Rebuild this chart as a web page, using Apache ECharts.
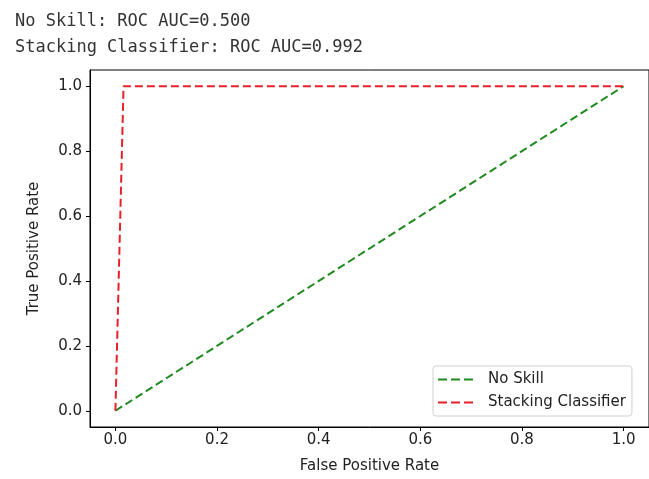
<!DOCTYPE html>
<html>
<head>
<meta charset="utf-8">
<script src="https://cdn.jsdelivr.net/npm/echarts@6/dist/echarts.min.js"></script>
<style>
html,body{margin:0;padding:0;background:#fff;}
#chart{width:649px;height:479px;}
</style>
</head>
<body>
<div id="chart"></div>
<script>
const titleLines = ['No Skill: ROC AUC=0.500', 'Stacking Classifier: ROC AUC=0.992'];
const seriesNames = ['No Skill', 'Stacking Classifier'];
const noSkillFpr = [0, 1];
const noSkillTpr = [0, 1];
const stackFpr = [0, 0.016, 1];
const stackTpr = [0, 1, 1];
const tickValues = [0, 0.2, 0.4, 0.6, 0.8, 1.0];

const chart = echarts.init(document.getElementById('chart'), null, {renderer: 'canvas'});
const sans = 'DejaVu Sans';
const dashIcon = 'path://M0,0h9v2h-9z M13,0h9v2h-9z M26,0h9v2h-9z';
const axisCommon = {
  type: 'value',
  min: -0.05,
  max: 1.05,
  splitLine: {show: false},
  axisLine: {show: true, onZero: false, lineStyle: {color: '#000', width: 1}},
  axisTick: {show: true, customValues: tickValues, length: 4, lineStyle: {color: '#000'}},
  axisLabel: {customValues: tickValues, formatter: v => v.toFixed(1), color: '#222', fontFamily: sans, fontSize: 15, margin: 6},
  nameLocation: 'middle',
  nameTextStyle: {color: '#222', fontFamily: sans, fontSize: 15}
};
chart.setOption({
  animation: false,
  title: {
    text: titleLines.join('\n'),
    left: 10, top: 4,
    textStyle: {fontFamily: 'DejaVu Sans Mono', fontSize: 17, fontWeight: 'normal', color: '#333', lineHeight: 26}
  },
  grid: {left: 90, top: 70, width: 569, height: 358, show: true, borderColor: '#000', borderWidth: 1, containLabel: false},
  xAxis: Object.assign({}, axisCommon, {name: 'False Positive Rate', nameGap: 32}),
  yAxis: Object.assign({}, axisCommon, {name: 'True Positive Rate', nameGap: 48,
    axisLabel: Object.assign({}, axisCommon.axisLabel, {margin: 8})}),
  legend: {
    orient: 'vertical',
    left: 433, top: 366,
    padding: [6, 6, 6, 5],
    itemWidth: 35, itemHeight: 2, itemGap: 8,
    icon: dashIcon,
    backgroundColor: 'rgba(255,255,255,0.8)',
    borderColor: '#d0d0d0', borderWidth: 1, borderRadius: 3,
    textStyle: {fontFamily: sans, fontSize: 15, color: '#222', padding: [0, 0, 0, 10]},
    data: seriesNames
  },
  series: [
    {name: seriesNames[0], type: 'line', symbol: 'none',
     data: noSkillFpr.map((x, i) => [x, noSkillTpr[i]]),
     lineStyle: {color: '#1f8a1f', width: 2, type: [8, 4]}, itemStyle: {color: '#1f8a1f'}},
    {name: seriesNames[1], type: 'line', symbol: 'none',
     data: stackFpr.map((x, i) => [x, stackTpr[i]]),
     lineStyle: {color: '#e8202a', width: 2, type: [8, 4]}, itemStyle: {color: '#e8202a'}}
  ]
});
</script>
</body>
</html>
